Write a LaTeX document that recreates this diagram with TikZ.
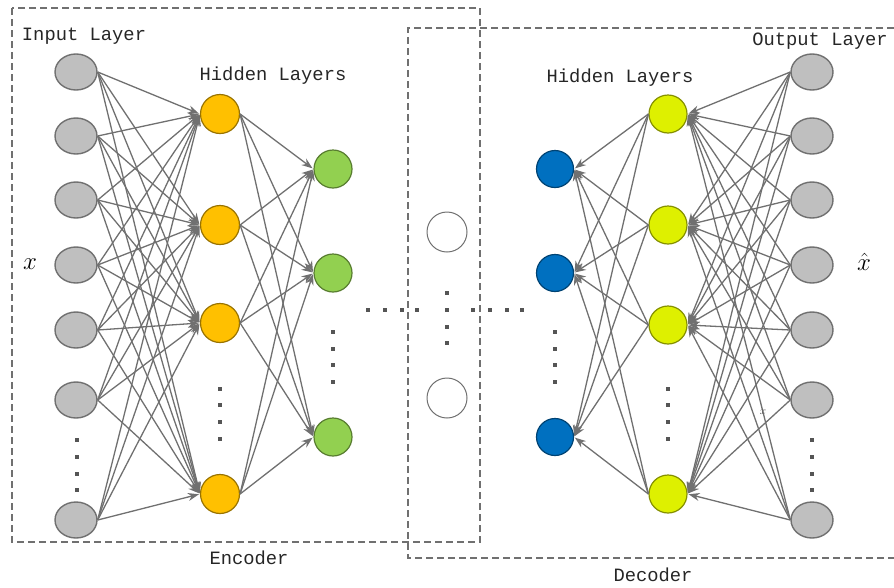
\documentclass[tikz,border=0pt]{standalone}
\usepackage{fontspec}
\setmonofont{Liberation Mono}
\usetikzlibrary{positioning, arrows.meta, shapes.geometric}
\definecolor{unitgray}{RGB}{191,191,191}
\definecolor{edgegray}{RGB}{112,112,112}
\definecolor{dotgray}{RGB}{85,85,85}
\definecolor{enccol}{RGB}{255,192,0}
\definecolor{codecol}{RGB}{146,208,80}
\definecolor{deccol}{RGB}{0,112,192}
\definecolor{outcol}{RGB}{222,240,0}

\begin{document}
\begin{tikzpicture}[
			x=1pt, y=-1pt,
			on grid,
			io/.style={
				ellipse,
				draw=edgegray,
				fill=unitgray,
				line width=1.4pt,
				minimum width=42pt,
				minimum height=36pt,
				inner sep=0pt
			},
			unit/.style={
				circle,
				draw=#1!60!black,
				fill=#1,
				line width=1.2pt,
				minimum size=39pt,
				inner sep=0pt
			},
			code/.style={
				circle,
				draw=edgegray,
				fill=white,
				line width=1pt,
				minimum size=40pt,
				inner sep=0pt
			},
			link/.style={
				draw=edgegray,
				line width=1.3pt,
				-{Stealth[length=11pt,width=8pt]},
				shorten >=1pt
			},
			box/.style={
				draw=edgegray,
				line width=1.4pt,
				dash pattern=on 7pt off 4pt
			},
			layertext/.style={
				font=\ttfamily\fontsize{18.8}{20}\selectfont,
				text=black!85
			}
			]
			\useasboundingbox (0,0) rectangle (894,587);

			% Frames
			\draw[box] (12,8) rectangle (480,542);
			\draw[box] (894,28) -- (408,28) -- (408,558) -- (894,558);

			% Input layer
			\node[io] (in1) at (76,72) {};
			\node[io] (in2) [below=64pt of in1] {};
			\node[io] (in3) [below=64pt of in2] {};
			\node[io] (in4) [below=65pt of in3] {};
			\node[io] (in5) [below=65pt of in4] {};
			\node[io] (in6) [below=70pt of in5] {};
			\node[io] (in7) [below=120pt of in6] {};

			% Encoder hidden layers
			\node[unit=enccol] (ha1) at (220,114) {};
			\node[unit=enccol] (ha2) [below=111pt of ha1] {};
			\node[unit=enccol] (ha3) [below=98pt of ha2] {};
			\node[unit=enccol] (ha4) [below=171pt of ha3] {};
			\node[unit=codecol, minimum size=38pt] (hb1) at (333,169) {};
			\node[unit=codecol, minimum size=38pt] (hb2) [below=104pt of hb1] {};
			\node[unit=codecol, minimum size=38pt] (hb3) [below=164pt of hb2] {};

			% Code
			\node[code] (z1) at (447,232) {};
			\node[code] (z2) [below=166pt of z1] {};

			% Decoder hidden layers
			\node[unit=deccol, minimum size=37pt] (hc1) at (555,169) {};
			\node[unit=deccol, minimum size=37pt] (hc2) [below=104pt of hc1] {};
			\node[unit=deccol, minimum size=37pt] (hc3) [below=164pt of hc2] {};
			\node[unit=outcol, minimum size=38pt] (hd1) at (668,114) {};
			\node[unit=outcol, minimum size=38pt] (hd2) [below=111pt of hd1] {};
			\node[unit=outcol, minimum size=38pt] (hd3) [below=100pt of hd2] {};
			\node[unit=outcol, minimum size=38pt] (hd4) [below=169pt of hd3] {};

			% Output layer
			\node[io] (out1) at (812,72) {};
			\node[io] (out2) [below=64pt of out1] {};
			\node[io] (out3) [below=64pt of out2] {};
			\node[io] (out4) [below=65pt of out3] {};
			\node[io] (out5) [below=65pt of out4] {};
			\node[io] (out6) [below=70pt of out5] {};
			\node[io] (out7) [below=120pt of out6] {};

			% Connections
			\foreach \i in {1,...,7}
				\foreach \j in {1,...,4}
					\draw[link] (in\i.east) -- (ha\j.west);
			\foreach \i in {1,...,4}
				\foreach \j in {1,...,3}
					\draw[link] (ha\i.east) -- (hb\j.west);
			\foreach \i in {1,...,4}
				\foreach \j in {1,...,3}
					\draw[link] (hd\i.west) -- (hc\j.east);
			\foreach \i in {1,...,7}
				\foreach \j in {1,...,4}
					\draw[link] (out\i.west) -- (hd\j.east);

			% Dots
			\foreach \y in {438,455,472,488} {
				\fill[dotgray] (75,\y) rectangle ++(4,4);
				\fill[dotgray] (810,\y) rectangle ++(4,4);
			}
			\foreach \y in {387,403,420,437} {
				\fill[dotgray] (218,\y) rectangle ++(4,4);
				\fill[dotgray] (666,\y) rectangle ++(4,4);
			}
			\foreach \y in {330,347,363,380} {
				\fill[dotgray] (331,\y) rectangle ++(4,4);
				\fill[dotgray] (553,\y) rectangle ++(4,4);
			}
			\foreach \x in {368,385,402,417,473,490,507,522}
				\fill[dotgray] (\x-2,308) rectangle ++(4,4);
			\foreach \y in {293,327,343}
				\fill[dotgray] (445,\y-2) rectangle ++(4,4);
			\fill[dotgray] (445,308) rectangle ++(4,4);

			% Labels
			\node[layertext] (inlabel) at (84,36) {Input Layer};
			\node[layertext] (enclabel) at (273,76) {Hidden Layers};
			\node[layertext] (declabel) at (620,78) {Hidden Layers};
			\node[layertext] (outlabel) at (820,41) {Output Layer};
			\node[layertext] (encoder) at (249,558) {Encoder};
			\node[layertext] (decoder) at (653,575) {Decoder};
			\node[font=\fontsize{24}{26}\selectfont] (xin) at (30,264) {$x$};
			\node[font=\fontsize{24}{26}\selectfont] (xout) at (864,262) {$\hat{x}$};
			\node[font=\fontsize{11}{12}\selectfont, text=dotgray] (xsmall) at (763,412) {$x$};
		\end{tikzpicture}
\end{document}
